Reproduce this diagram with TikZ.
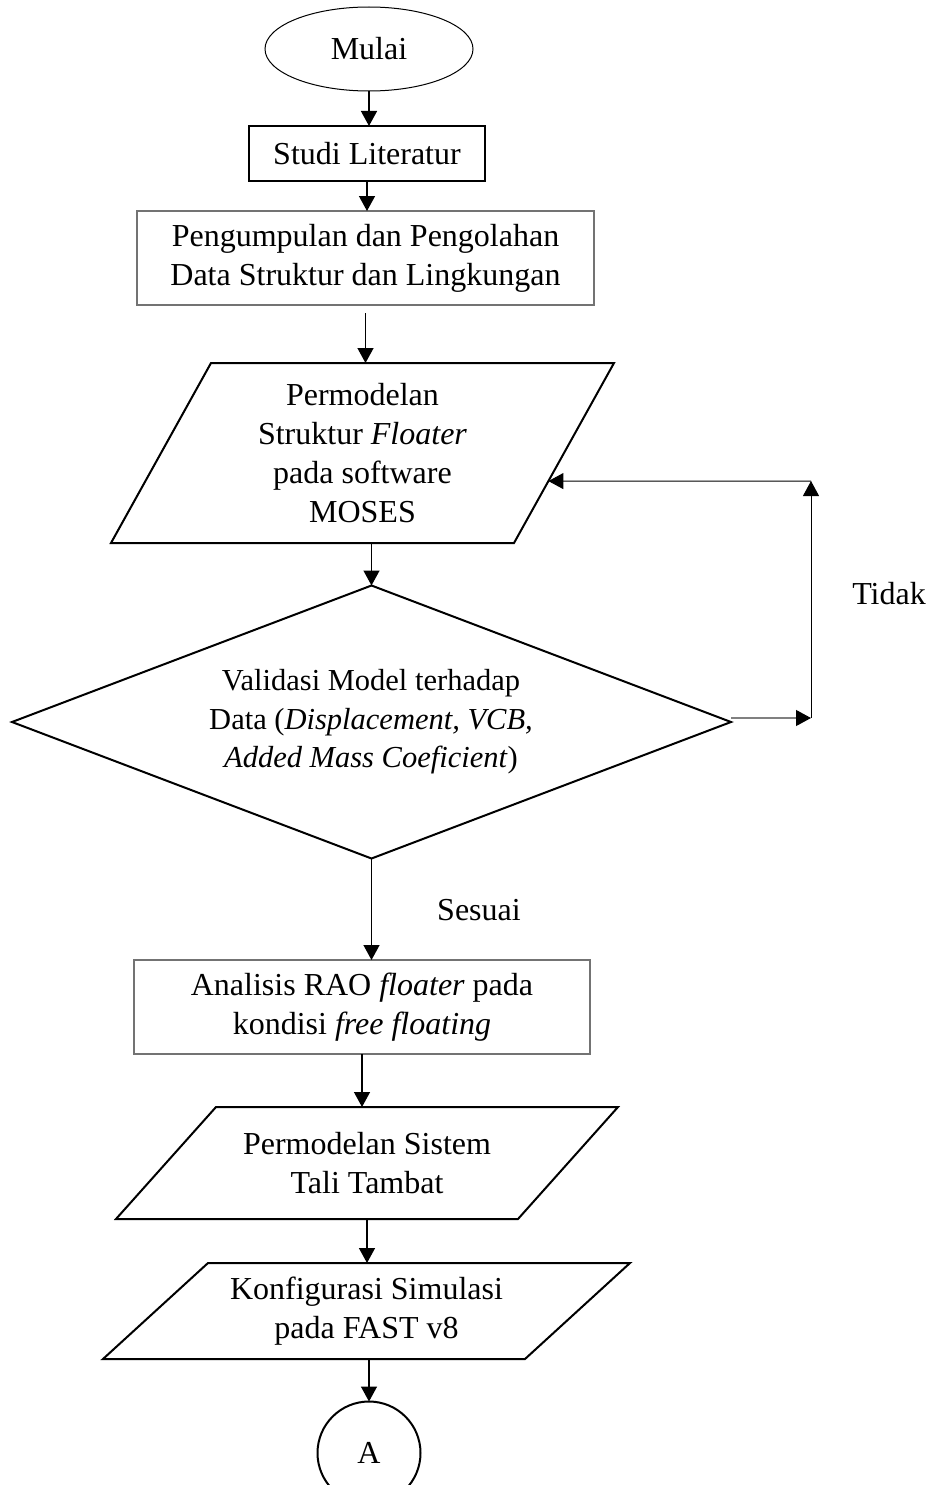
\documentclass[tikz,border=0pt]{standalone}
\usepackage{fontspec}
\setmainfont{Liberation Serif}
\usetikzlibrary{shapes.geometric,arrows.meta,calc}
\begin{document}
\begin{tikzpicture}[x=1pt,y=-1pt,
  txt/.style={font=\fontsize{32}{39}\selectfont, align=center, inner sep=0pt},
  smalltxt/.style={font=\fontsize{30.5}{38.5}\selectfont, align=center, inner sep=0pt},
  shp/.style={inner sep=0pt, outer sep=0pt},
  tip/.style={-{Triangle[length=15pt,width=16pt]}},
  arr/.style={tip, line width=1.4pt},
  thinarr/.style={tip, line width=1pt},
  graybox/.style={shp, rectangle, draw=black!55, line width=1.1pt},
  thickbox/.style={shp, rectangle, draw, line width=2pt},
  paraline/.style={line width=2pt, line join=miter}]
\useasboundingbox (0,0) rectangle (928,1485);
\clip (0,0) rectangle (928,1485);

% nodes
\node[shp, ellipse, draw, line width=1pt, minimum width=208pt, minimum height=84pt, txt] (start) at (369,49) {Mulai};
\node[thickbox, minimum width=236pt, minimum height=55pt, txt] (studi) at (367,153.5) {Studi Literatur};
\node[graybox, minimum width=457pt, minimum height=94pt, txt] (kumpul) at (365.5,258) {Pengumpulan dan Pengolahan\\Data Struktur dan Lingkungan};
\node[shp, minimum width=503pt, minimum height=180pt, txt] (model) at (362.5,453) {Permodelan\\Struktur \textit{Floater}\\pada software\\MOSES};
\node[shp, diamond, draw, line width=2pt, minimum width=719pt, minimum height=273pt] (dia) at (371.5,722) {};
\node[smalltxt] (diatext) at (371,722) {Validasi Model terhadap\\Data (\textit{Displacement, VCB,}\\\textit{Added Mass Coeficient})};
\node[graybox, minimum width=456pt, minimum height=94pt, txt] (ana) at (362,1007) {Analisis RAO \textit{floater} pada\\kondisi \textit{free floating}};
\node[shp, minimum width=502pt, minimum height=112pt, txt] (tali) at (367,1163) {Permodelan Sistem\\Tali Tambat};
\node[shp, minimum width=527pt, minimum height=96pt, txt] (konf) at (366.5,1311) {Konfigurasi Simulasi\\pada FAST v8};
\node[shp, circle, draw, line width=2pt, minimum size=103pt, txt] (A) at (369,1453) {A};
\node[txt] (sesuai) at (479,910) {Sesuai};
\node[txt] (tidak) at (889,594) {Tidak};

% parallelograms
\draw[paraline] ([xshift=100pt]model.north west) -- (model.north east) -- ([xshift=-100pt]model.south east) -- (model.south west) -- cycle;
\draw[paraline] ([xshift=100pt]tali.north west) -- (tali.north east) -- ([xshift=-100pt]tali.south east) -- (tali.south west) -- cycle;
\draw[paraline] ([xshift=105pt]konf.north west) -- (konf.north east) -- ([xshift=-105pt]konf.south east) -- (konf.south west) -- cycle;

% feedback coordinates
\coordinate (fb1) at (811,718);
\coordinate (fb2) at (811,481);
\coordinate (mIn) at ($(model.north east)!0.656!([xshift=-100pt]model.south east)$);

% connectors
\draw[arr] (start.south) -- (start.south |- studi.north);
\draw[arr] (studi.south) -- (studi.south |- kumpul.north);
\draw[arr] (kumpul.south) ++(0,8) -- (kumpul.south |- model.north);
\draw[arr] (dia.north |- model.south) -- (dia.north);
\draw[arr] (dia.south) -- (dia.south |- ana.north);
\draw[arr] (ana.south) -- (ana.south |- tali.north);
\draw[arr] (tali.south) -- (tali.south |- konf.north);
\draw[arr] (A.north |- konf.south) -- (A.north);
\draw[draw=black!50, line width=1.1pt, -{Triangle[length=15pt,width=16pt,fill=black,color=black]}] (dia.east |- fb1) -- (fb1);
\draw[thinarr] (fb1) -- (fb2);
\draw[thinarr] (fb2) -- (mIn);
\end{tikzpicture}
\end{document}
